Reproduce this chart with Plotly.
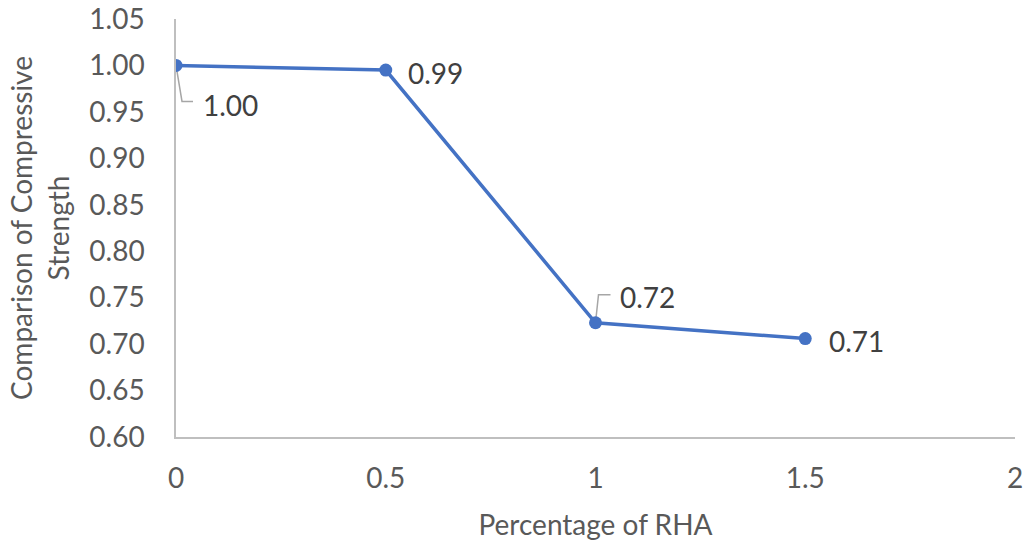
import plotly.graph_objects as go

x_vals = [0, 0.5, 1, 1.5]
y_vals = [1.0, 0.995, 0.723, 0.706]
labels = ["1.00", "0.99", "0.72", "0.71"]
y_ticks = [0.60, 0.65, 0.70, 0.75, 0.80, 0.85, 0.90, 0.95, 1.00, 1.05]
x_ticks = [0, 0.5, 1, 1.5, 2]
x_tick_text = ["0", "0.5", "1", "1.5", "2"]

FONT = "Lato"
FS = 28
LINE = "#4472C4"
GREY_TXT = "#595959"
LBL_TXT = "#404040"

fig = go.Figure()
fig.add_trace(go.Scatter(
    x=x_vals, y=y_vals, mode="lines+markers",
    line=dict(color=LINE, width=3.5),
    marker=dict(color=LINE, size=13),
    hoverinfo="skip", showlegend=False,
))

placements = [
    dict(xshift=25, yshift=-40, leader="M 0 0 L 6 -36 L 17 -36"),
    dict(xshift=20, yshift=-3, leader=None),
    dict(xshift=22, yshift=26, leader="M 0 0 L 3 28 L 15 28"),
    dict(xshift=22, yshift=-2, leader=None),
]

for xv, yv, lab, p in zip(x_vals, y_vals, labels, placements):
    fig.add_annotation(
        x=xv, y=yv, text=lab, showarrow=False,
        xanchor="left", yanchor="middle",
        xshift=p["xshift"], yshift=p["yshift"],
        font=dict(family=FONT, size=FS, color=LBL_TXT),
    )
    if p["leader"]:
        fig.add_shape(
            type="path", xref="x", yref="y",
            xsizemode="pixel", ysizemode="pixel",
            xanchor=xv, yanchor=yv,
            path=p["leader"],
            line=dict(color="#A6A6A6", width=1.5),
            layer="below",
        )

fig.update_layout(
    width=1025, height=544,
    margin=dict(l=176, r=10, t=19, b=107),
    paper_bgcolor="white", plot_bgcolor="white",
    font=dict(family=FONT, color=GREY_TXT),
    xaxis=dict(
        range=[0, 2], tickvals=x_ticks, ticktext=x_tick_text,
        showgrid=False, zeroline=False, automargin=False,
        showline=True, linecolor="#BFBFBF", linewidth=1.5,
        ticks="", ticklabelstandoff=16,
        tickfont=dict(family=FONT, size=FS, color=GREY_TXT),
        title=dict(text="Percentage of RHA", font=dict(family=FONT, size=FS, color=GREY_TXT), standoff=22),
    ),
    yaxis=dict(
        range=[0.60, 1.05], tickvals=y_ticks, ticktext=[f"{v:.2f}" for v in y_ticks],
        showgrid=False, zeroline=False, automargin=False,
        showline=True, linecolor="#BFBFBF", linewidth=1.5,
        ticks="", ticklabelstandoff=24,
        tickfont=dict(family=FONT, size=FS, color=GREY_TXT),
        title=dict(text="Comparison of Compressive<br>Strength", font=dict(family=FONT, size=FS, color=GREY_TXT), standoff=12),
    ),
)

fig.write_html(
    "out.html",
    config={"displayModeBar": False},
    post_script="document.body.style.margin='0';document.body.style.overflow='hidden';",
)
